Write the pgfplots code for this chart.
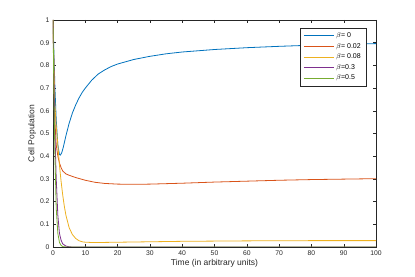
\documentclass[border=0pt]{standalone}
\usepackage{fontspec}
\setmainfont{Liberation Sans}
\usepackage{pgfplots}
\pgfplotsset{compat=1.18}
\definecolor{mblue}{rgb}{0,0.447,0.741}
\definecolor{morange}{rgb}{0.85,0.325,0.098}
\definecolor{myellow}{rgb}{0.929,0.694,0.125}
\definecolor{mpurple}{rgb}{0.494,0.184,0.556}
\definecolor{mgreen}{rgb}{0.466,0.674,0.188}
\definecolor{axgray}{rgb}{0.15,0.15,0.15}
\begin{document}
\begin{tikzpicture}
\begin{axis}[name=ax,
  scale only axis, width=323pt, height=227pt,
  xmin=0, xmax=100, ymin=0, ymax=1,
  xtick={0,10,...,100}, ytick={0,0.1,...,1},
  yticklabels={0,0.1,0.2,0.3,0.4,0.5,0.6,0.7,0.8,0.9,1},
  tick align=inside, tick pos=both,
  major tick length=3pt,
  axis line style={axgray, line width=0.6pt},
  every tick/.style={axgray, line width=0.4pt},
  tick label style={font=\fontsize{6.8}{7}\selectfont, text=axgray},
  /pgf/number format/assume math mode=true,
  xlabel={Time (in arbitrary units)}, ylabel={Cell Population},
  label style={font=\fontsize{8.5}{10}\selectfont, text=axgray},
  xlabel style={yshift=3pt}, ylabel style={yshift=-3pt},
  legend style={at={(rel axis cs:0.969,0.965)}, anchor=north east,
    font=\fontsize{7}{8}\selectfont, draw=axgray, line width=0.4pt,
    row sep=0.2pt, inner xsep=3pt, inner ysep=2.5pt},
  legend cell align=left,
  legend image code/.code={\draw (0cm,0cm) -- (1.05cm,0cm);},
  every axis plot/.append style={line width=0.8pt},
]
\addlegendimage{mblue, line width=1pt}
\addlegendentry{$\beta$= 0}
\addlegendimage{morange, line width=1pt}
\addlegendentry{$\beta$= 0.02}
\addlegendimage{myellow, line width=1pt}
\addlegendentry{$\beta$= 0.08}
\addlegendimage{mpurple, line width=1pt}
\addlegendentry{$\beta$=0.3}
\addlegendimage{mgreen, line width=1pt}
\addlegendentry{$\beta$=0.5}
\addplot[mblue, forget plot] coordinates {(0,1) (0.3,0.85) (0.6,0.7) (1,0.56) (1.5,0.45) (2,0.407) (2.3,0.405) (2.7,0.415) (3.2,0.44) (4,0.49) (5,0.545) (6,0.59) (7,0.625) (8,0.655) (9,0.68) (10,0.70) (12,0.735) (14,0.762) (16,0.78) (18,0.795) (20,0.806) (25,0.826) (30,0.84) (35,0.851) (40,0.859) (50,0.87) (60,0.878) (70,0.884) (80,0.889) (90,0.893) (100,0.896)};
\addplot[morange, forget plot] coordinates {(0,1) (0.3,0.75) (0.6,0.55) (1,0.45) (1.5,0.40) (2,0.37) (2.5,0.35) (3,0.335) (4,0.322) (5,0.316) (7,0.306) (10,0.294) (13,0.285) (16,0.28) (20,0.277) (25,0.276) (30,0.277) (40,0.281) (50,0.286) (60,0.29) (70,0.294) (80,0.297) (90,0.299) (100,0.301)};
\addplot[myellow, forget plot] coordinates {(0,1) (0.3,0.8) (0.6,0.62) (1,0.53) (1.5,0.45) (2,0.36) (2.5,0.29) (3,0.23) (3.5,0.18) (4,0.14) (5,0.085) (6,0.055) (7,0.038) (8,0.028) (9,0.023) (10,0.021) (12,0.02) (15,0.02) (20,0.021) (30,0.023) (40,0.025) (60,0.027) (80,0.028) (100,0.028)};
\addplot[mpurple, forget plot] coordinates {(0,1) (0.3,0.75) (0.6,0.5) (1,0.3) (1.5,0.14) (2,0.06) (2.5,0.03) (3,0.014) (4,0.004) (5,0.001) (6,0) (100,0)};
\addplot[mgreen, forget plot] coordinates {(0,1) (0.3,0.65) (0.6,0.4) (1,0.17) (1.5,0.06) (2,0.02) (2.5,0.007) (3,0.002) (4,0) (100,0)};
\end{axis}
\path ([xshift=-53pt,yshift=-30pt]ax.south west) rectangle ([xshift=39pt,yshift=20pt]ax.north east);
\end{tikzpicture}
\end{document}
